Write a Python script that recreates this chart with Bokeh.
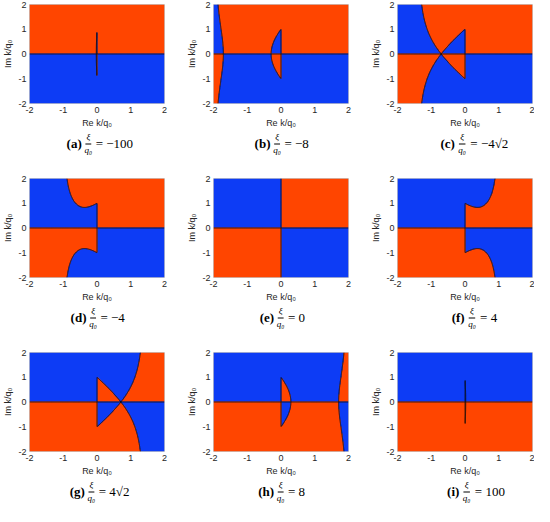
import numpy as np
from bokeh.plotting import figure
from bokeh.layouts import column, row
from bokeh.models import Label
from bokeh.embed import file_html
from bokeh.resources import INLINE

# ---- data -------------------------------------------------------------
panel_letters = ["a", "b", "c", "d", "e", "f", "g", "h", "i"]
xi_values = [-100.0, -8.0, -4.0 * np.sqrt(2.0), -4.0, 0.0, 4.0, 4.0 * np.sqrt(2.0), 8.0, 100.0]
xi_labels = ["\u2212100", "\u22128", "\u22124\u221a2", "\u22124", "0", "4", "4\u221a2", "8", "100"]
q0 = 1.0
tick_values = [-2, -1, 0, 1, 2]
tick_labels = ["-2", "-1", "0", "1", "2"]
k_min, k_max = -2.0, 2.0

RED = "#FF4500"
BLUE = "#0D3CF5"
TXT = "#262626"

n_grid = 400
xs = k_min + (np.arange(n_grid) + 0.5) * (k_max - k_min) / n_grid
ys = k_min + (np.arange(n_grid) + 0.5) * (k_max - k_min) / n_grid
X, Y = np.meshgrid(xs, ys)
K = (X + 1j * Y) * q0


def im_theta(xi):
    lam = K * np.sqrt(1.0 + q0 ** 2 / K ** 2)   # branch cut on [-i q0, i q0]
    theta = lam * (xi - 2.0 * K)
    return theta.imag


CW = {"(": 0.333, ")": 0.333, " ": 0.25, "=": 0.564, "\u2212": 0.75, "\u221a": 0.6}


def text_w(s, size, bold=False):
    w = 0.0
    for ch in s:
        w += CW.get(ch, 0.6 if bold else 0.5)
    return w * size


LEFT = 24
FRAME_W = 140
TOP = 4
FRAME_H = 99
AXB = 27


def make_panel(i, right_border):
    w = LEFT + FRAME_W + right_border
    p = figure(width=w, height=TOP + FRAME_H + AXB,
               x_range=(k_min, k_max), y_range=(k_min, k_max),
               output_backend="svg", toolbar_location=None,
               min_border_left=LEFT, min_border_right=right_border,
               min_border_top=TOP, min_border_bottom=AXB)
    s = im_theta(xi_values[i])
    sign_img = (s > 0).astype(float)
    p.image(image=[sign_img], x=k_min, y=k_min, dw=k_max - k_min, dh=k_max - k_min,
            palette=[RED, BLUE], level="image")
    p.contour(x=xs, y=ys, z=s, levels=[0.0], line_color="#101010", line_width=0.9)

    p.xgrid.visible = False
    p.ygrid.visible = False
    p.outline_line_color = "#c8c8c8"
    p.background_fill_color = "white"
    p.border_fill_color = "white"
    for ax in (p.xaxis[0], p.yaxis[0]):
        ax.ticker = tick_values
        ax.major_label_overrides = {float(v): t for v, t in zip(tick_values, tick_labels)}
        ax.major_tick_in = 0
        ax.major_tick_out = 0
        ax.minor_tick_in = 0
        ax.minor_tick_out = 0
        ax.axis_line_color = None
        ax.major_label_text_font = "Liberation Sans"
        ax.major_label_text_font_size = "9px"
        ax.major_label_text_color = TXT
        ax.axis_label_text_font = "Liberation Sans"
        ax.axis_label_text_font_size = "9px"
        ax.axis_label_text_font_style = "normal"
        ax.axis_label_text_color = TXT
        ax.major_label_standoff = 3
        ax.axis_label_standoff = 2
    p.xaxis.axis_label = "Re k/q\u2080"
    p.yaxis.axis_label = "Im k/q\u2080"
    return p


def make_caption(i, width, height):
    c = figure(width=width, height=height, x_range=(0, width), y_range=(0, height),
               output_backend="svg", toolbar_location=None, min_border=0)
    c.axis.visible = False
    c.grid.visible = False
    c.outline_line_color = None
    c.background_fill_color = "white"
    c.border_fill_color = "white"
    lab = "(" + panel_letters[i] + ")"
    rhs = "=  " + xi_labels[i]
    fs = 13
    wl = text_w(lab, fs, bold=True)
    wf = 8.0
    wr = text_w(rhs, fs)
    g1, g2 = 5.0, 6.0
    total = wl + g1 + wf + g2 + wr
    cx = LEFT + FRAME_W / 2
    fx = cx - total / 2 + wl + g1 + wf / 2
    yc = height - 13.0
    common = dict(text_font="Liberation Serif", text_color="black", text_baseline="middle")
    c.add_layout(Label(x=fx - wf / 2 - g1, y=yc, text=lab, text_font_size="%dpx" % fs,
                       text_font_style="bold", text_align="right", **common))
    c.add_layout(Label(x=fx, y=yc + 6.5, text="\u03be", text_font_size="9px",
                       text_font_style="italic", text_align="center", **common))
    c.segment(x0=[fx - wf / 2], y0=[yc - 0.5], x1=[fx + wf / 2], y1=[yc - 0.5],
              line_color="black", line_width=1.0)
    c.add_layout(Label(x=fx, y=yc - 6.5, text="q\u2080", text_font_size="9px",
                       text_font_style="italic", text_align="center", **common))
    c.add_layout(Label(x=fx + wf / 2 + g2, y=yc, text=rhs, text_font_size="%dpx" % fs,
                       text_align="left", **common))
    return c


rows = []
for r in range(3):
    cells = []
    for cidx in range(3):
        i = 3 * r + cidx
        rb = 2 if cidx == 2 else 20
        cap_h = 26 if r == 2 else 44
        p = make_panel(i, rb)
        cap = make_caption(i, LEFT + FRAME_W + rb, cap_h)
        cells.append(column(p, cap))
    rows.append(row(*cells))

layout = column(*rows)
open("out.html", "w").write(file_html(layout, INLINE))
